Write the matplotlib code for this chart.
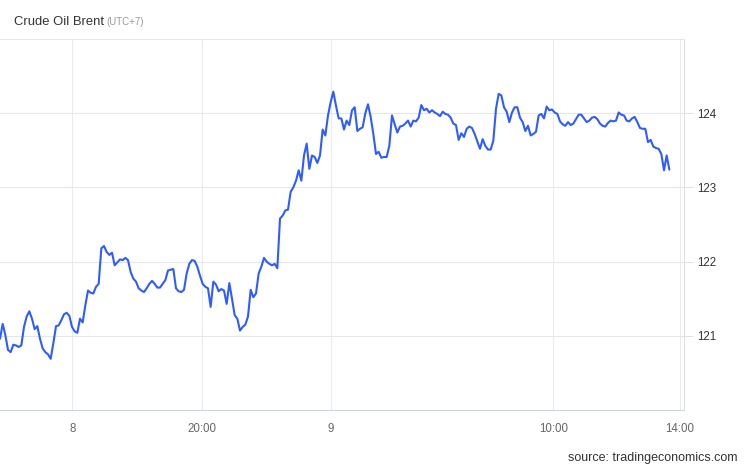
import matplotlib
matplotlib.use('Agg')
import matplotlib.pyplot as plt
import numpy as np

plt.rcParams['font.family'] = ['Liberation Sans', 'DejaVu Sans']

title = 'Crude Oil Brent'
subtitle = '(UTC+7)'
source = 'source: tradingeconomics.com'

prices_a = [120.96, 121.16, 121.01, 120.81, 120.78, 120.88, 120.87, 120.85, 120.87, 121.12,
            121.26, 121.33, 121.23, 121.09, 121.13, 120.96, 120.83, 120.78, 120.75, 120.69,
            120.90, 121.13, 121.14, 121.21, 121.29, 121.31, 121.27, 121.12, 121.06, 121.04,
            121.23, 121.18, 121.41, 121.61, 121.58, 121.57, 121.66, 121.70, 122.18,
            122.21, 122.13, 122.09, 122.12, 121.95, 121.99, 122.03, 122.02, 122.05, 122.02,
            121.86, 121.77]
prices_b = [121.73, 121.64, 121.61, 121.59, 121.64, 121.70, 121.74, 121.70, 121.65,
            121.65, 121.70, 121.75, 121.88, 121.89, 121.90, 121.64, 121.60, 121.59, 121.62,
            121.84, 121.97, 122.02, 122.01, 121.93, 121.81, 121.70, 121.66, 121.64, 121.39,
            121.73, 121.69, 121.60, 121.63, 121.61, 121.43, 121.71, 121.50, 121.28, 121.23,
            121.07, 121.12, 121.15, 121.26, 121.62, 121.52, 121.57, 121.84, 121.93,
            122.05, 122.00, 121.97]
prices_c = [121.95, 121.97, 121.91, 122.58, 122.62, 122.69, 122.70, 122.94, 123.00, 123.09,
            123.23, 123.09, 123.43, 123.59, 123.25, 123.43, 123.41, 123.33, 123.43, 123.78,
            123.70, 123.97, 124.15, 124.29, 124.10, 123.93, 123.93, 123.78, 123.90, 123.84,
            124.04, 124.08, 123.76, 123.79, 123.81, 124.00, 124.12, 123.95, 123.72, 123.45,
            123.48, 123.40, 123.41, 123.41, 123.56, 123.97, 123.85, 123.74, 123.82, 123.83]
prices_d = [123.86, 123.90, 123.82, 123.90, 123.89, 123.94, 124.11, 124.04, 124.06, 124.01,
            124.04, 124.01, 123.99, 123.96, 124.02, 123.99, 123.98, 123.94, 123.86, 123.84,
            123.64, 123.73, 123.68, 123.79, 123.82, 123.80, 123.72, 123.62, 123.52, 123.65,
            123.56, 123.51, 123.51, 123.63, 124.06, 124.26, 124.24, 124.08, 124.02, 123.88,
            124.01, 124.08, 124.08, 123.94, 123.88, 123.76, 123.83, 123.70, 123.72, 123.75,
            123.97]
prices_e = [123.99, 123.93, 124.09, 124.04, 124.05, 124.01, 123.99, 123.89, 123.85, 123.83,
            123.88, 123.84, 123.86, 123.92, 123.98, 123.98, 123.93, 123.88, 123.90, 123.94,
            123.95, 123.92, 123.86, 123.83, 123.82, 123.87, 123.90, 123.89, 123.90, 124.01,
            123.98, 123.97, 123.90, 123.89, 123.93, 123.95, 123.88, 123.80, 123.79, 123.79,
            123.61, 123.64, 123.55, 123.53, 123.52, 123.45, 123.23, 123.43, 123.24]
prices = prices_a + prices_b + prices_c + prices_d + prices_e

x_tick_pos = [27.1, 75.6, 124.0, 207.5, 255.0]
x_tick_labels = ['8', '20:00', '9', '10:00', '14:00']
y_ticks = [121, 122, 123, 124]

W, H = 746, 468
fig = plt.figure(figsize=(W / 100, H / 100), dpi=100)
ax = fig.add_axes([0, 58 / H, 684 / W, 371 / H])

x = np.arange(len(prices))
ax.plot(x, prices, color='#2f5cff', lw=1.5, solid_joinstyle='round', solid_capstyle='round', zorder=3)

ax.set_xlim(0, 256.5)
ax.set_ylim(120, 125)

ax.yaxis.tick_right()
ax.set_yticks(y_ticks)
ax.set_yticklabels([str(v) for v in y_ticks])
ax.tick_params(axis='y', length=6.5, width=0.75, color='#e0e0e0', pad=3,
               labelsize=8.3, labelcolor='#333333')
ax.set_xticks(x_tick_pos)
ax.set_xticklabels(x_tick_labels)
ax.tick_params(axis='x', length=0, pad=9, labelsize=8.3, labelcolor='#666666')

ax.grid(axis='y', color='#e6e6e6', lw=0.75)
ax.grid(axis='x', color='#e8ecf2', lw=0.75)

ax.spines['left'].set_visible(False)
ax.spines['top'].set_color('#e6e6e6')
ax.spines['top'].set_linewidth(0.75)
ax.spines['right'].set_color('#e0e0e0')
ax.spines['right'].set_linewidth(0.75)
ax.spines['bottom'].set_color('#ccd6eb')
ax.spines['bottom'].set_linewidth(0.75)

t = fig.text(14 / W, 1 - 25 / H, title, va='baseline', ha='left', fontsize=9.4, color='#333333')
fig.canvas.draw()
bb = t.get_window_extent(renderer=fig.canvas.get_renderer())
fig.text((bb.x1 + 2) / W, 1 - 25 / H, subtitle, va='baseline', ha='left', fontsize=7, color='#999999')

fig.text(738 / W, 1 - 458 / H, source, va='center', ha='right', fontsize=9, color='#333333')

fig.savefig('out.png', dpi=100)
